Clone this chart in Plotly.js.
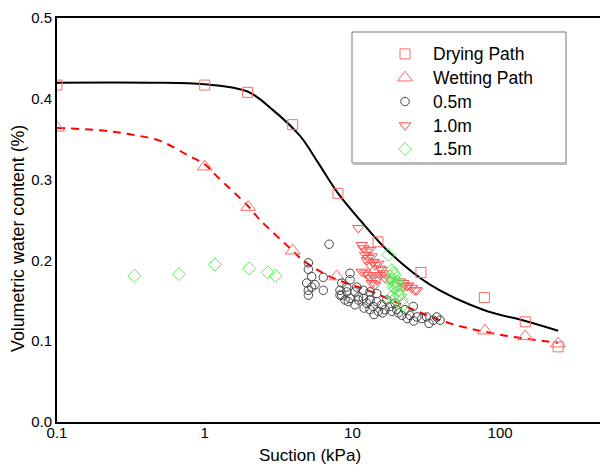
<!DOCTYPE html>
<html><head><meta charset="utf-8">
<script src="https://cdn.plot.ly/plotly-3.0.1.min.js"></script>
<style>html,body{margin:0;padding:0;background:#fff}#chart{width:600px;height:466px}</style>
</head><body><div id="chart"></div>
<script>
// Drying path (squares)
const dryX = [0.1, 1, 1.95, 3.94, 7.98, 14.9, 29.1, 78.2, 148, 247];
const dryY = [0.417, 0.417, 0.408, 0.368, 0.283, 0.223, 0.185, 0.154, 0.124, 0.093];
// Wetting path (triangles up)
const wetX = [0.1, 1, 1.97, 3.94, 7.83, 79, 148, 247];
const wetY = [0.364, 0.316, 0.266, 0.212, 0.180, 0.113, 0.106, 0.097];
// 0.5m (circles)
const m05X = [6.95, 5.03, 5.03, 5.30, 4.90, 5.03, 5.03, 5.58, 5.30, 6.35, 6.35,
  9.63, 9.63, 8.47, 8.24, 8.24, 9.15, 9.63, 10.4, 10.96, 10.4, 11.85, 12.5, 13.15, 13.85,
  14.6, 15.8, 17.1, 17.97, 19.4, 19.95, 21.6, 22.7, 24.5, 25.8, 27.3, 29.5, 31.8, 35.3,
  37.2, 39.2, 13.15, 14.6, 11.85, 10.7, 9.15, 16.6, 14.98, 13.15, 8.91, 9.38, 8.47,
  11.0, 12.0, 14.0, 16.0, 18.5, 20.5, 23.5, 26.0, 33.0];
const m05Y = [0.220, 0.197, 0.189, 0.180, 0.172, 0.163, 0.157, 0.170, 0.167, 0.179, 0.163,
  0.184, 0.176, 0.172, 0.163, 0.157, 0.161, 0.153, 0.161, 0.151, 0.145, 0.153, 0.147, 0.151, 0.143,
  0.149, 0.145, 0.151, 0.143, 0.147, 0.139, 0.132, 0.139, 0.132, 0.143, 0.130, 0.128, 0.130, 0.126,
  0.130, 0.126, 0.161, 0.159, 0.163, 0.167, 0.167, 0.139, 0.137, 0.139, 0.151, 0.149, 0.157,
  0.155, 0.141, 0.133, 0.135, 0.137, 0.135, 0.128, 0.125, 0.122];
// 1.0m (triangles down)
const m10X = [10.96, 11.56, 11.85, 12.5, 13.15, 12.17, 12.81, 13.51, 13.85, 14.23, 14.98, 15.38,
  15.8, 11.56, 12.17, 12.81, 13.15, 13.85, 14.6, 15.38, 16.19, 16.6, 13.51, 14.23, 17.97, 21.0,
  22.1, 23.3, 23.9, 25.2, 26.5, 27.3, 22.1, 13.15, 12.5];
const m10Y = [0.240, 0.219, 0.215, 0.211, 0.213, 0.207, 0.203, 0.205, 0.198, 0.194, 0.196, 0.190,
  0.188, 0.186, 0.184, 0.182, 0.178, 0.180, 0.176, 0.182, 0.184, 0.178, 0.172, 0.170, 0.176, 0.174,
  0.172, 0.168, 0.169, 0.166, 0.163, 0.163, 0.168, 0.194, 0.200];
// 1.5m (diamonds)
const m15X = [0.334, 0.67, 1.174, 2.0, 2.67, 3.02,
  17.5, 18.46, 18.9, 19.4, 17.97, 18.46, 19.95, 18.9, 19.95, 18.9, 20.46, 20.46, 18.46, 19.4,
  21.6, 22.1, 21.0, 19.4, 20.46];
const m15Y = [0.181, 0.183, 0.195, 0.190, 0.185, 0.181,
  0.207, 0.188, 0.184, 0.182, 0.180, 0.176, 0.174, 0.172, 0.170, 0.168, 0.163, 0.157, 0.155, 0.153,
  0.151, 0.145, 0.157, 0.165, 0.170];
// Fitted curves
const fitDryX = [0.1, 0.43, 1, 1.95, 2.9, 4.42, 5.85, 8, 11.25, 17.1, 33.5, 76.6, 148, 247];
const fitDryY = [0.420, 0.420, 0.418, 0.409, 0.386, 0.354, 0.321, 0.283, 0.250, 0.213, 0.170, 0.139, 0.125, 0.113];
const fitWetX = [0.1, 0.195, 0.312, 0.497, 0.771, 1, 1.21, 1.97, 2.37, 3.94, 4.64, 7.05, 13.5, 42.4, 100, 247];
const fitWetY = [0.364, 0.361, 0.356, 0.348, 0.330, 0.319, 0.304, 0.267, 0.250, 0.212, 0.200, 0.180, 0.161, 0.124, 0.108, 0.098];

const names = ['Drying Path', 'Wetting Path', '0.5m', '1.0m', '1.5m'];
const FONT = 'Arial, "Liberation Sans", sans-serif';

const traces = [
  {x: fitDryX, y: fitDryY, mode: 'lines', line: {color: '#000', width: 2, shape: 'spline'}, showlegend: false, hoverinfo: 'skip'},
  {x: fitWetX, y: fitWetY, mode: 'lines', line: {color: '#ff0000', width: 2, dash: '8px,6px', shape: 'spline'}, showlegend: false, hoverinfo: 'skip'},
  {x: dryX, y: dryY, name: names[0], mode: 'markers', marker: {symbol: 'square-open', size: 10, color: '#ff6a6a', line: {width: 1}}},
  {x: wetX, y: wetY, name: names[1], mode: 'markers', marker: {symbol: 'triangle-up-open', size: 13, color: '#ff6a6a', line: {width: 1}}},
  {x: m05X, y: m05Y, name: names[2], mode: 'markers', marker: {symbol: 'circle-open', size: 8.5, color: '#444', line: {width: 1}}},
  {x: m10X, y: m10Y, name: names[3], mode: 'markers', marker: {symbol: 'triangle-down-open', size: 10, color: '#ff5050', line: {width: 1}}},
  {x: m15X, y: m15Y, name: names[4], mode: 'markers', marker: {symbol: 'diamond-open', size: 10, color: '#55ee55', line: {width: 1}}}
];

const L = 57, R = 600, T = 18, B = 422;
const px = v => (v - L) / (R - L), py = v => (B - v) / (B - T);

const layout = {
  width: 600, height: 466,
  margin: {l: 57, r: 0, t: 18, b: 44, pad: 0},
  paper_bgcolor: '#fff', plot_bgcolor: '#fff',
  font: {family: FONT, size: 15, color: '#000'},
  showlegend: true,
  xaxis: {type: 'log', range: [-1, 2.676], showgrid: false, zeroline: false,
    showline: true, linecolor: '#000', linewidth: 2, mirror: true, ticks: '',
    ticklabelstandoff: -4,
    tickvals: [0.1, 1, 10, 100], ticktext: ['0.1', '1', '10', '100'],
    tickfont: {size: 15, family: FONT}},
  yaxis: {range: [0, 0.5], dtick: 0.1, tick0: 0, tickformat: '.1f', showgrid: false, zeroline: false,
    showline: true, linecolor: '#000', linewidth: 2, mirror: false, ticks: '',
    tickfont: {size: 15, family: FONT}},
  legend: {x: px(377), y: py(37), xanchor: 'left', yanchor: 'top', bgcolor: 'rgba(0,0,0,0)',
    borderwidth: 0, itemwidth: 46, font: {size: 16, family: FONT}},
  shapes: [
    {type: 'rect', xref: 'paper', yref: 'paper', x0: px(352), x1: px(566), y0: py(163), y1: py(32),
      line: {color: '#777', width: 1}, fillcolor: 'rgba(0,0,0,0)'},
    {type: 'line', xref: 'paper', yref: 'paper', x0: px(353), x1: px(567), y0: py(164), y1: py(164),
      line: {color: '#bbb', width: 2}}
  ],
  annotations: [
    {text: 'Suction (kPa)', xref: 'paper', yref: 'paper', x: px(310), y: py(455), showarrow: false,
      xanchor: 'center', yanchor: 'middle', font: {size: 17, family: FONT}},
    {text: 'Volumetric water content (%)', xref: 'paper', yref: 'paper', x: px(18), y: py(239), showarrow: false,
      textangle: -90, xanchor: 'center', yanchor: 'middle', font: {size: 17.8, family: FONT}}
  ]
};

Plotly.newPlot('chart', traces, layout, {staticPlot: true, displayModeBar: false}).then(() => {
  document.querySelectorAll('#chart .legend [clip-path]').forEach(g => g.removeAttribute('clip-path'));
  document.querySelectorAll('#chart .legendtext').forEach(t => { t.style.fontSize = '17.5px'; });
});
</script></body></html>
